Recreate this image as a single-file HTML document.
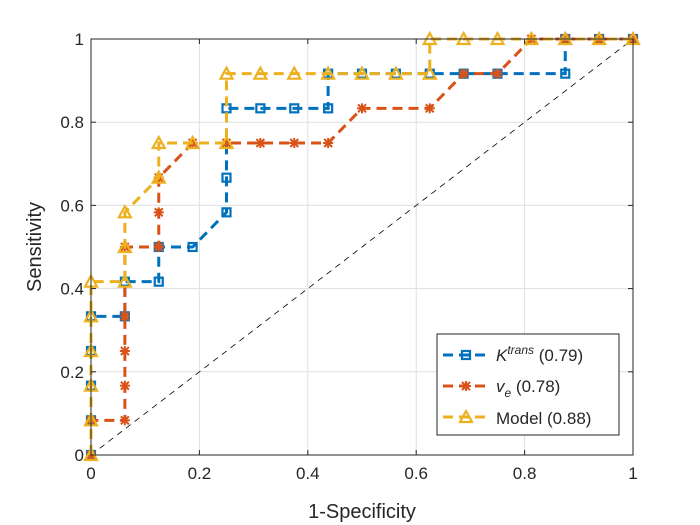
<!DOCTYPE html>
<html><head><meta charset="utf-8"><style>
body{margin:0;background:#fff;}
svg{display:block;font-family:"Liberation Sans",sans-serif;}
</style></head><body>
<svg id="chart" width="700" height="525" xmlns="http://www.w3.org/2000/svg">
<rect width="700" height="525" fill="#fff"/>
<g id="grid"></g>
<line x1="91" y1="455" x2="633" y2="39" stroke="#000" stroke-width="0.8" stroke-dasharray="6,5"/>
<g id="series"></g>
<rect x="91" y="39" width="542" height="416" fill="none" stroke="#262626" stroke-width="1"/>
<g id="ticks"></g>
<text x="362" y="518" text-anchor="middle" font-size="20" fill="#262626">1-Specificity</text>
<text transform="translate(41,247) rotate(-90)" text-anchor="middle" font-size="20" fill="#262626">Sensitivity</text>
<g>
<rect x="437" y="334" width="182" height="101" fill="#fff" stroke="#262626" stroke-width="1"/>
<g id="legend-marks"></g>
<text x="496" y="361" font-size="17" fill="#262626"><tspan font-style="italic">K</tspan><tspan font-style="italic" font-size="12" dy="-7">trans</tspan><tspan dy="7"> (0.79)</tspan></text>
<text x="496" y="392" font-size="17" fill="#262626"><tspan font-style="italic">v</tspan><tspan font-style="italic" font-size="12" dy="5">e</tspan><tspan dy="-5"> (0.78)</tspan></text>
<text x="496" y="424" font-size="17" fill="#262626">Model (0.88)</text>
</g>
</svg>
<script>
const ticks = [0, 0.2, 0.4, 0.6, 0.8, 1];
const tickLabels = ["0", "0.2", "0.4", "0.6", "0.8", "1"];
const ktransX = [0,0,0,0,0,1,1,2,2,3,4,4,4,5,6,7,7,8,9,10,11,12,14,14,15,16];
const ktransY = [0,1,2,3,4,4,5,5,6,6,7,8,10,10,10,10,11,11,11,11,11,11,11,12,12,12];
const veX = [0,0,1,1,1,1,1,2,2,2,3,4,5,6,7,8,10,11,12,13,14,15,16];
const veY = [0,1,1,2,3,4,6,6,7,8,9,9,9,9,9,10,10,11,11,12,12,12,12];
const modelX = [0,0,0,0,0,0,1,1,1,2,2,3,4,4,5,6,7,8,9,10,10,11,12,13,14,15,16];
const modelY = [0,1,2,3,4,5,5,6,7,8,9,9,9,11,11,11,11,11,11,11,12,12,12,12,12,12,12];
const xDen = 16, yDen = 12;
const NS = "http://www.w3.org/2000/svg";
const sx = v => 91 + v * 542;
const sy = v => 455 - v * 416;
function mk(tag, attrs, parent){const e=document.createElementNS(NS,tag);for(const k in attrs)e.setAttribute(k,attrs[k]);parent.appendChild(e);return e;}
const grid=document.getElementById('grid'), tk=document.getElementById('ticks');
ticks.forEach((t,i)=>{
  if(t>0&&t<1){
    const gx=mk('line',{x1:sx(t),y1:39,x2:sx(t),y2:455,stroke:'#dfdfdf','stroke-width':1},grid);
    
    
    const gy=mk('line',{x1:91,y1:sy(t),x2:633,y2:sy(t),stroke:'#dfdfdf','stroke-width':1},grid);
    
    
  }
  const xl=mk('text',{x:sx(t),y:479,'text-anchor':'middle','font-size':17,fill:'#262626'},tk);
  xl.textContent=tickLabels[i];
  
  
  const yl=mk('text',{x:84,y:sy(t)+6,'text-anchor':'end','font-size':17,fill:'#262626'},tk);
  yl.textContent=tickLabels[i];
  
  
  mk('line',{x1:sx(t),y1:455,x2:sx(t),y2:450,stroke:'#262626'},tk);
  mk('line',{x1:91,y1:sy(t),x2:96,y2:sy(t),stroke:'#262626'},tk);
  mk('line',{x1:628,y1:sy(t),x2:633,y2:sy(t),stroke:'#262626'},tk);
  mk('line',{x1:sx(t),y1:39,x2:sx(t),y2:44,stroke:'#262626'},tk);
});
function marker(type,x,y,color,parent){
  let e;
  if(type==='sq') e=mk('rect',{x:x-4,y:y-4,width:8,height:8,fill:'none',stroke:color,'stroke-width':2.2},parent);
  else if(type==='star'){
    e=mk('g',{stroke:color,'stroke-width':2},parent);
    [[-5,0,5,0],[0,-5,0,5],[-4,-4,4,4],[-4,4,4,-4]].forEach(s=>mk('line',{x1:x+s[0],y1:y+s[1],x2:x+s[2],y2:y+s[3]},e));
  } else e=mk('polygon',{points:`${x},${y-6} ${x-6},${y+5} ${x+6},${y+5}`,fill:'none',stroke:color,'stroke-width':2.2},parent);
  return e;
}
const series=document.getElementById('series');
const defs=[
  {name:'ktrans',xs:ktransX,ys:ktransY,color:'#0072BD',m:'sq'},
  {name:'ve',xs:veX,ys:veY,color:'#D95319',m:'star'},
  {name:'model',xs:modelX,ys:modelY,color:'#EDB120',m:'tri'}];
defs.forEach(d=>{
  const g=mk('g',{},series);
  
  
  const pts=d.xs.map((x,i)=>`${sx(x/xDen)},${sy(d.ys[i]/yDen)}`).join(' ');
  const pl=mk('polyline',{points:pts,fill:'none',stroke:d.color,'stroke-width':3,'stroke-dasharray':'10,6'},g);
  
  
  d.xs.forEach((x,i)=>{
    const mm=marker(d.m,sx(x/xDen),sy(d.ys[i]/yDen),d.color,g);
    
    
  });
});
const lm=document.getElementById('legend-marks');
defs.forEach((d,i)=>{
  const y=355+i*31;
  mk('line',{x1:443,y1:y,x2:490,y2:y,stroke:d.color,'stroke-width':3,'stroke-dasharray':'10,6'},lm);
  marker(d.m,466,y,d.color,lm);
});
</script>
</body></html>
